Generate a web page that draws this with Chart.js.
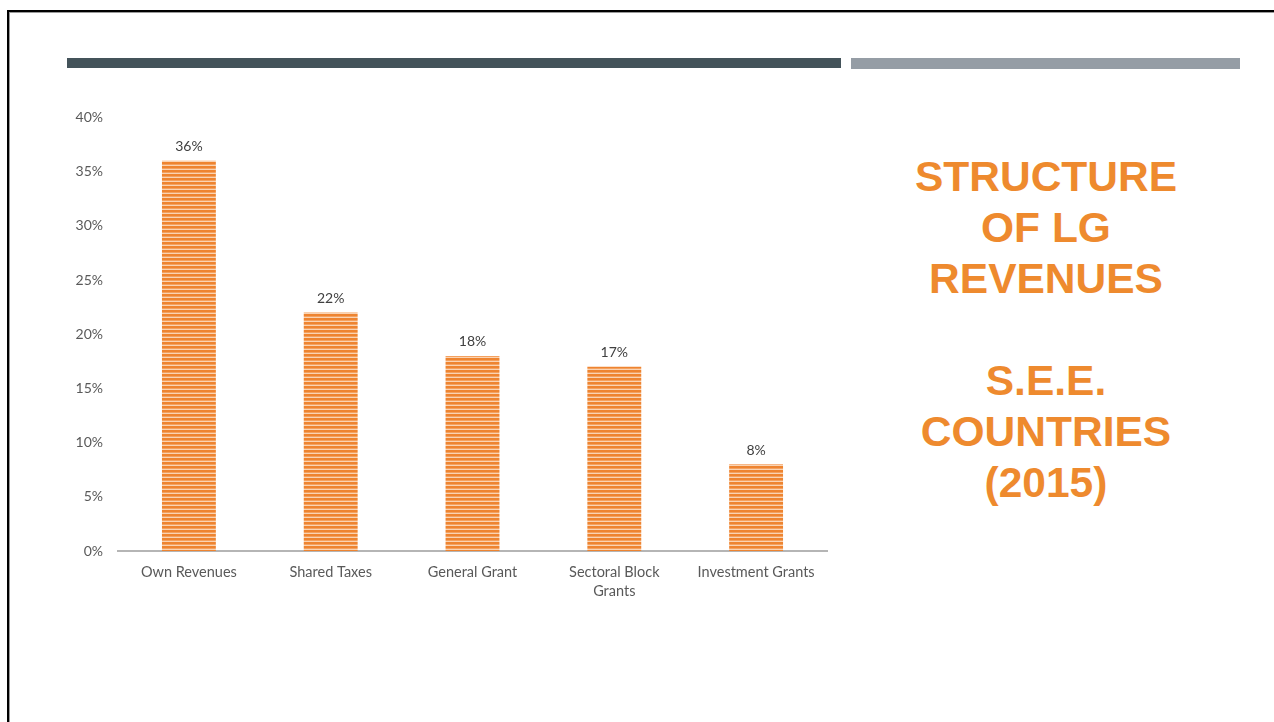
<!DOCTYPE html>
<html>
<head>
<meta charset="utf-8">
<script src="https://cdn.jsdelivr.net/npm/chart.js@4"></script>
<style>
  html, body { margin: 0; padding: 0; background: #fff; }
  body { width: 1274px; height: 722px; position: relative; overflow: hidden; font-family: Lato, "Open Sans", sans-serif; }
  .frame { position: absolute; left: 7px; top: 10px; width: 1300px; height: 800px;
           border-top: 2px solid #000; border-left: 2px solid #000;
           box-shadow: inset 1px 1px 0 #9a9a9a; }
  .rule-dark { position: absolute; left: 67px; top: 58px; width: 774px; height: 10px; background: #44535A; }
  .rule-light { position: absolute; left: 851px; top: 58px; width: 389px; height: 11px; background: #959DA5; }
  .title { position: absolute; left: 880px; top: 151px; width: 332px; text-align: center;
           font-family: "Liberation Sans", Arial, sans-serif; font-weight: bold; font-size: 42.5px;
           line-height: 51px; color: #EE8A2E; }
  .chart-box { position: absolute; left: 60px; top: 94px; width: 780px; height: 526px; }
</style>
</head>
<body>
<div class="frame"></div>
<div class="rule-dark"></div>
<div class="rule-light"></div>
<div class="title">STRUCTURE<br>OF LG<br>REVENUES<br><br>S.E.E.<br>COUNTRIES<br>(2015)</div>
<div class="chart-box"><canvas id="chart"></canvas></div>
<script>
// Revenue shares by source, percent
const categories = ["Own Revenues", "Shared Taxes", "General Grant", ["Sectoral Block", "Grants"], "Investment Grants"];
const shares = [36, 22, 18, 17, 8];
const yTicks = [0, 5, 10, 15, 20, 25, 30, 35, 40];

const labelFont = "Lato, 'Open Sans', sans-serif";

// Horizontal-stripe fill for the bars
function stripeFill() {
  const c = document.createElement("canvas");
  c.width = 4; c.height = 4;
  const g = c.getContext("2d");
  g.fillStyle = "#FAD3B2";
  g.fillRect(0, 0, 4, 4);
  g.fillStyle = "#F4A15F";
  g.fillRect(0, 2, 4, 1);
  g.fillStyle = "#EE8430";
  g.fillRect(0, 0, 4, 2);
  return g.createPattern(c, "repeat");
}

const valueLabels = {
  id: "valueLabels",
  afterDatasetsDraw(chart) {
    const ctx = chart.ctx;
    const meta = chart.getDatasetMeta(0);
    ctx.save();
    ctx.font = "14px " + labelFont;
    ctx.fillStyle = "#404040";
    ctx.textAlign = "center";
    ctx.textBaseline = "bottom";
    meta.data.forEach((bar, i) => {
      ctx.fillText(shares[i] + "%", bar.x, bar.y - 7);
    });
    ctx.restore();
  }
};

new Chart(document.getElementById("chart"), {
  type: "bar",
  data: {
    labels: categories,
    datasets: [{
      data: shares,
      backgroundColor: stripeFill(),
      borderWidth: 0,
      barPercentage: 0.38,
      categoryPercentage: 1.0
    }]
  },
  options: {
    responsive: true,
    maintainAspectRatio: false,
    animation: false,
    layout: { padding: { top: 13, right: 13, left: 0, bottom: 0 } },
    plugins: { legend: { display: false }, tooltip: { enabled: false } },
    scales: {
      x: {
        grid: { display: false, drawTicks: false },
        border: { display: true, color: "#B5B5B5", width: 2 },
        ticks: { color: "#595959", font: { family: labelFont, size: 14.5, lineHeight: 1.3 }, padding: 12, maxRotation: 0, autoSkip: false },
        afterFit(scale) { scale.height = 69; }
      },
      y: {
        min: 0, max: 40,
        afterBuildTicks(scale) { scale.ticks = yTicks.map(v => ({ value: v })); },
        grid: { display: false, drawTicks: false },
        border: { display: false },
        ticks: { color: "#595959", font: { family: labelFont, size: 14 }, padding: 15, callback: v => v + "%" },
        afterFit(scale) { scale.width = 58; }
      }
    }
  },
  plugins: [valueLabels]
});
</script>
</body>
</html>
